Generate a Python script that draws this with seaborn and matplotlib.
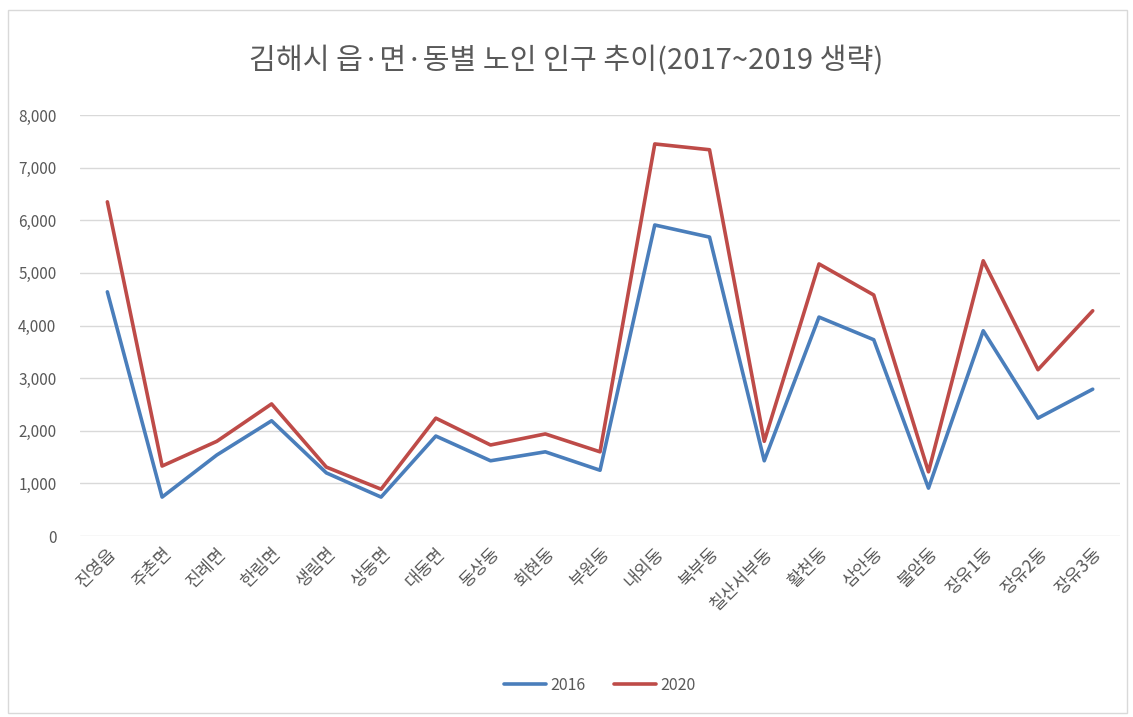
import pandas as pd
import matplotlib.pyplot as plt
import matplotlib.ticker as mticker
from matplotlib.patches import Rectangle
import seaborn as sns

# 읍/면/동 names and elderly population
regions = ['진영읍', '주촌면', '진례면', '한림면', '생림면', '상동면', '대동면',
           '동상동', '회현동', '부원동', '내외동', '북부동', '칠산서부동', '활천동',
           '삼안동', '불암동', '장유1동', '장유2동', '장유3동']
pop_2016 = [4640, 740, 1540, 2190, 1200, 740, 1900, 1430, 1600, 1250,
            5910, 5680, 1430, 4160, 3730, 910, 3900, 2240, 2790]
pop_2020 = [6350, 1330, 1800, 2510, 1310, 890, 2240, 1730, 1940, 1600,
            7450, 7340, 1800, 5170, 4580, 1220, 5230, 3160, 4280]
years = ['2016', '2020']
y_ticks = [0, 1000, 2000, 3000, 4000, 5000, 6000, 7000, 8000]

df = pd.DataFrame({
    '지역': regions * 2,
    '인구': pop_2016 + pop_2020,
    '연도': [years[0]] * len(regions) + [years[1]] * len(regions),
})

sns.set_style('white')
plt.rcParams['font.family'] = ['Noto Sans CJK KR', 'DejaVu Sans']

fig = plt.figure(figsize=(11.33, 7.17), dpi=100)
ax = fig.add_axes([0.0706, 0.2524, 0.918, 0.5872])

sns.lineplot(data=df, x='지역', y='인구', hue='연도', sort=False, estimator=None,
             palette={'2016': '#4A7EBB', '2020': '#BE4B48'}, linewidth=2.6, ax=ax)

ax.set_xlim(-0.5, len(regions) - 0.5)
ax.set_ylim(0, 8000)
ax.set_yticks(y_ticks)
ax.yaxis.set_major_formatter(mticker.FuncFormatter(lambda v, p: f'{int(v):,}'))
ax.grid(axis='y', color='#D9D9D9', linewidth=1)
ax.set_axisbelow(True)
for s in ax.spines.values():
    s.set_visible(False)
ax.tick_params(axis='both', length=0, colors='#595959')
ax.tick_params(axis='y', pad=17, labelsize=11)
ax.tick_params(axis='x', pad=6, labelsize=12.5)
ax.set_xticks(range(len(regions)))
ax.set_xticklabels(regions, rotation=45, ha='right', rotation_mode='anchor')
ax.set_xlabel('')
ax.set_ylabel('')

fig.suptitle('김해시 읍·면·동별 노인 인구 추이(2017~2019 생략)', y=0.935,
             fontsize=21, color='#595959')

ax.legend(loc='upper center', bbox_to_anchor=(0.5, -0.30), ncol=2, frameon=False,
          fontsize=11.5, handlelength=2.6, handletextpad=0.3, columnspacing=1.8,
          labelcolor='#595959')

fig.patches.append(Rectangle((0.007, 0.006), 0.988, 0.98, transform=fig.transFigure,
                             fill=False, edgecolor='#D9D9D9', linewidth=1))

plt.savefig('out.png', dpi=100)
